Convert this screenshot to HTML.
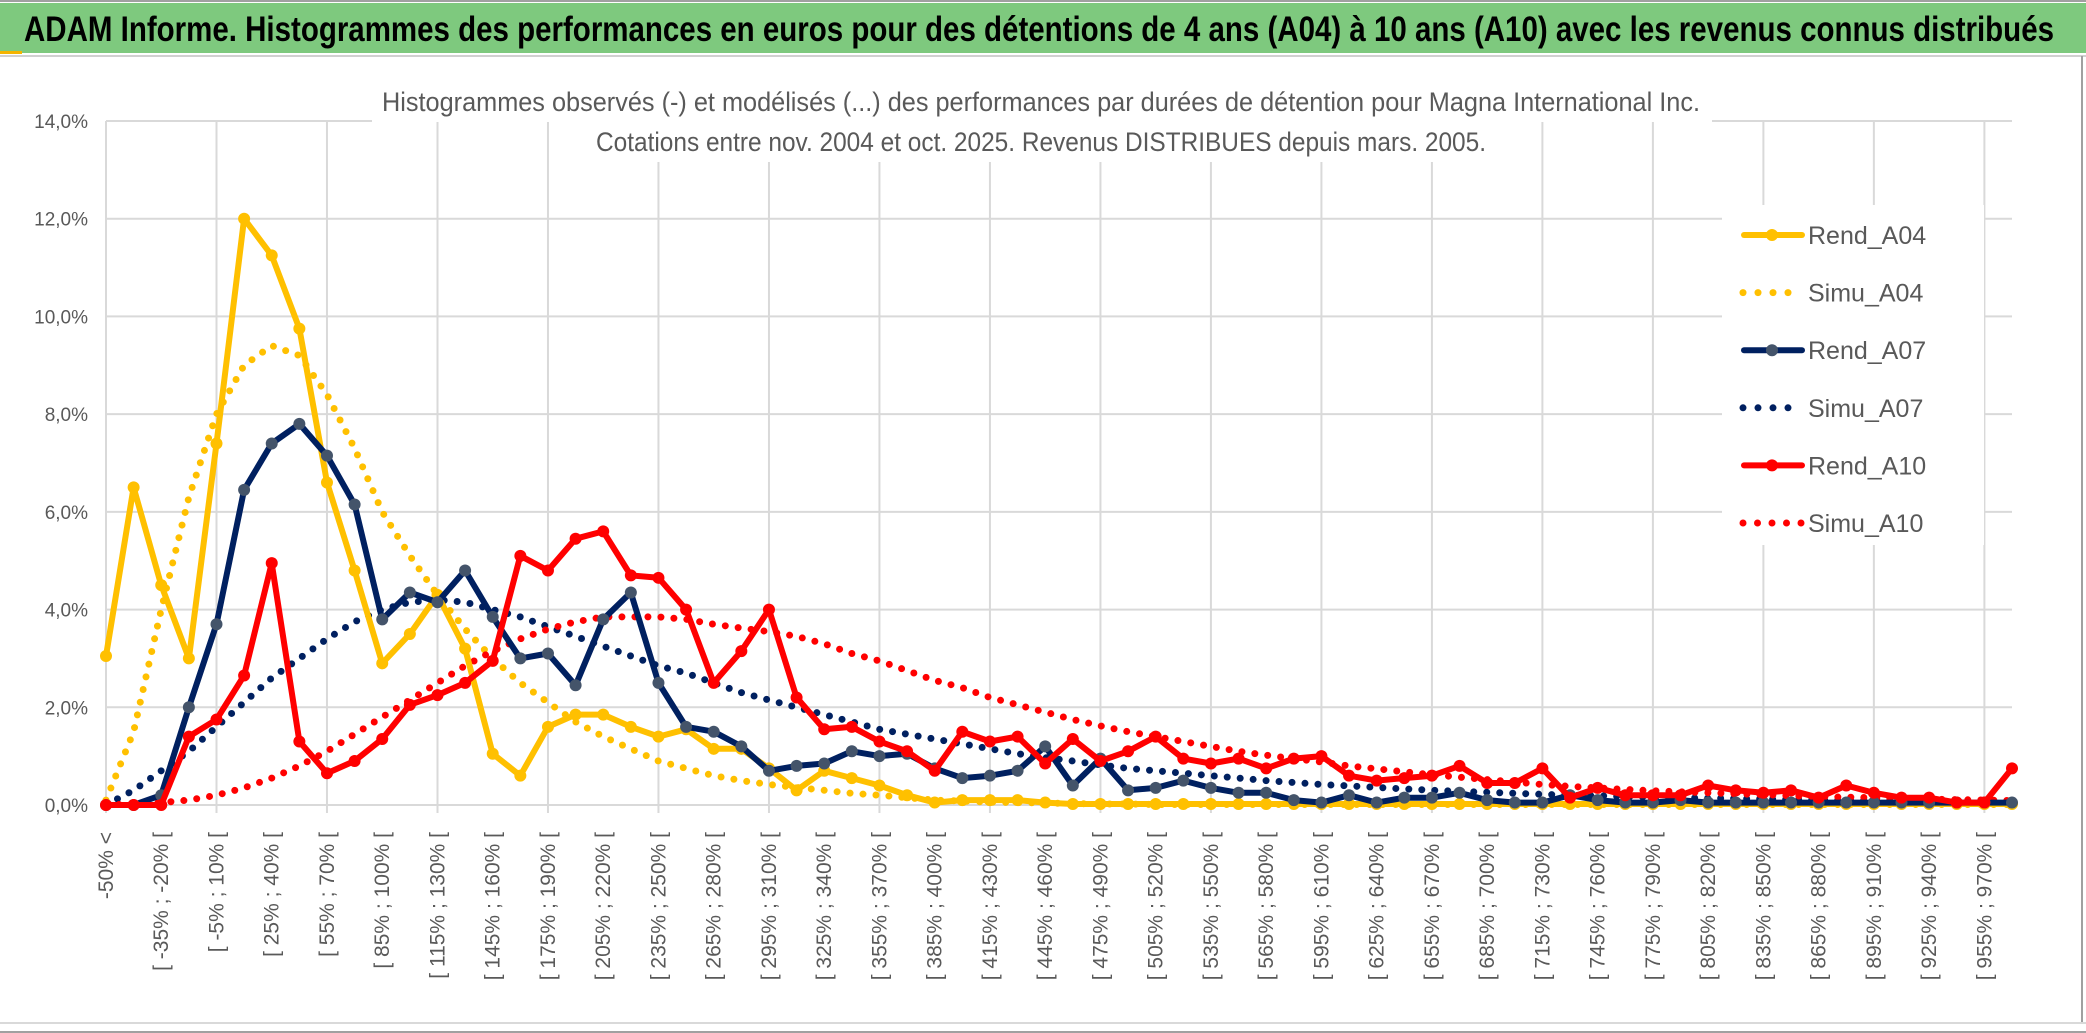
<!DOCTYPE html>
<html><head><meta charset="utf-8"><style>
html,body{margin:0;padding:0;background:#fff;}
svg{display:block;font-family:"Liberation Sans",sans-serif;}
</style></head><body>
<svg id="chart" width="2086" height="1033" viewBox="0 0 2086 1033">
<rect x="0" y="0" width="2086" height="1033" fill="#fff"/>
<line x1="0" y1="1" x2="2086" y2="1" stroke="#a0a0a0" stroke-width="2"/>
<rect x="0" y="3" width="2086" height="50" fill="#7ec97e"/>
<rect x="0" y="51" width="22" height="3" fill="#f4b400"/>
<line x1="0" y1="56" x2="2086" y2="56" stroke="#d0d0d0" stroke-width="2"/>
<text x="24" y="41" font-size="35" font-weight="bold" fill="#000" textLength="2030" lengthAdjust="spacingAndGlyphs">ADAM Informe. Histogrammes des performances en euros pour des détentions de 4 ans (A04) à 10 ans (A10) avec les revenus connus distribués</text>
<line x1="2082" y1="56" x2="2082" y2="1023" stroke="#a0a0a0" stroke-width="2"/>
<line x1="0" y1="1023" x2="2086" y2="1023" stroke="#d9d9d9" stroke-width="2"/>
<line x1="0" y1="1032" x2="2086" y2="1032" stroke="#a0a0a0" stroke-width="2"/>
<g id="grid"></g>
<g id="series"></g>
<g id="axes"></g>
<g id="legend"></g>
<rect x="372" y="82" width="1340" height="40" fill="#fff"/>
<rect x="586" y="122" width="912" height="40" fill="#fff"/>
<text x="382" y="111" font-size="27" fill="#595959" textLength="1318" lengthAdjust="spacingAndGlyphs">Histogrammes observés (-) et modélisés (...) des performances par durées de détention pour Magna International Inc.</text>
<text x="596" y="151" font-size="27" fill="#595959" textLength="890" lengthAdjust="spacingAndGlyphs">Cotations entre nov. 2004 et oct. 2025. Revenus DISTRIBUES depuis mars. 2005.</text>
</svg>
<script>
const categories = [];
categories.push('-50% <');
for (let k = 0; k < 69; k++) { const a = -50 + 15 * k; categories.push('[ ' + a + '% ; ' + (a + 15) + '% ['); }
const yTicks = [0, 2, 4, 6, 8, 10, 12, 14];
const rendA04 = [3.05,6.5,4.5,3.0,7.4,12.0,11.25,9.75,6.6,4.8,2.9,3.5,4.3,3.2,1.05,0.6,1.6,1.85,1.85,1.6,1.4,1.55,1.15,1.15,0.75,0.3,0.7,0.55,0.4,0.2,0.05,0.1,0.1,0.1,0.05,0.02,0.02,0.02,0.02,0.02,0.02,0.02,0.02,0.02,0.02,0.02,0.02,0.02,0.02,0.02,0.02,0.02,0.02,0.02,0.02,0.02,0.02,0.02,0.02,0.02,0.02,0.02,0.02,0.02,0.02,0.02,0.02,0.02,0.02,0.02];
const simuA04 = [0.1,1.5,4.0,6.3,8.0,9.0,9.4,9.2,8.4,7.3,6.0,5.1,4.3,3.6,3.0,2.5,2.1,1.7,1.4,1.15,0.9,0.75,0.6,0.5,0.42,0.36,0.3,0.24,0.2,0.15,0.1,0.08,0.06,0.05,0.04,0.03,0.02,0.02,0.01,0.01,0.01,0.01,0.01,0.01,0.01,0.01,0.01,0.01,0.01,0.01,0.01,0.01,0.01,0.01,0.01,0.01,0.01,0.01,0.01,0.01,0.01,0.01,0.01,0.01,0.01,0.01,0.01,0.01,0.01,0.01];
const rendA07 = [0,0,0.2,2.0,3.7,6.45,7.4,7.8,7.15,6.15,3.8,4.35,4.15,4.8,3.85,3.0,3.1,2.45,3.8,4.35,2.5,1.6,1.5,1.2,0.7,0.8,0.85,1.1,1.0,1.05,0.75,0.55,0.6,0.7,1.2,0.4,0.95,0.3,0.35,0.5,0.35,0.25,0.25,0.1,0.05,0.2,0.05,0.15,0.15,0.25,0.1,0.05,0.05,0.2,0.1,0.05,0.05,0.1,0.05,0.05,0.05,0.05,0.05,0.05,0.05,0.05,0.05,0.05,0.05,0.05];
const simuA07 = [0,0.3,0.7,1.1,1.6,2.1,2.6,3.0,3.4,3.75,4.0,4.15,4.2,4.15,4.0,3.85,3.65,3.45,3.25,3.05,2.85,2.7,2.5,2.3,2.15,2.0,1.85,1.7,1.55,1.45,1.35,1.25,1.15,1.05,0.97,0.9,0.82,0.75,0.7,0.65,0.6,0.55,0.5,0.46,0.42,0.39,0.36,0.33,0.3,0.28,0.26,0.24,0.22,0.2,0.19,0.17,0.16,0.15,0.14,0.13,0.12,0.11,0.1,0.09,0.09,0.08,0.07,0.07,0.06,0.06];
const rendA10 = [0,0,0,1.4,1.75,2.65,4.95,1.3,0.65,0.9,1.35,2.05,2.25,2.5,2.95,5.1,4.8,5.45,5.6,4.7,4.65,4.0,2.5,3.15,4.0,2.2,1.55,1.6,1.3,1.1,0.7,1.5,1.3,1.4,0.85,1.35,0.9,1.1,1.4,0.95,0.85,0.95,0.75,0.95,1.0,0.6,0.5,0.55,0.6,0.8,0.45,0.45,0.75,0.15,0.35,0.2,0.2,0.2,0.4,0.3,0.25,0.3,0.15,0.4,0.25,0.15,0.15,0.05,0.05,0.75];
const simuA10 = [0,0.02,0.05,0.1,0.2,0.35,0.55,0.8,1.1,1.45,1.8,2.15,2.5,2.85,3.15,3.4,3.6,3.75,3.85,3.85,3.85,3.8,3.7,3.62,3.55,3.45,3.3,3.1,2.95,2.75,2.55,2.4,2.2,2.05,1.9,1.75,1.62,1.5,1.4,1.3,1.2,1.1,1.02,0.95,0.88,0.8,0.74,0.68,0.62,0.57,0.52,0.47,0.42,0.38,0.35,0.32,0.29,0.27,0.25,0.23,0.21,0.19,0.17,0.16,0.15,0.13,0.12,0.11,0.1,0.09];
const seriesNames = ['Rend_A04','Simu_A04','Rend_A07','Simu_A07','Rend_A10','Simu_A10'];

const NS = 'http://www.w3.org/2000/svg';
const X0 = 106, X1 = 2012, Y0 = 805, Y14 = 121;
function xPos(i) { return X0 + i * (X1 - X0) / (categories.length - 1); }
function yPos(v) { return Y0 - v * (Y0 - Y14) / 14; }
function mk(tag, attrs, parent) { const e = document.createElementNS(NS, tag); for (const k in attrs) e.setAttribute(k, attrs[k]); parent.appendChild(e); return e; }

const grid = document.getElementById('grid');
yTicks.forEach(t => {
  const l = mk('line', {x1: X0, x2: X1, y1: yPos(t), y2: yPos(t), stroke: '#d9d9d9', 'stroke-width': 2}, grid);
  
  
});
for (let i = 0; i < categories.length; i += 4) {
  const l = mk('line', {x1: xPos(i), x2: xPos(i), y1: Y14, y2: Y0 + 8, stroke: '#d9d9d9', 'stroke-width': 2}, grid);
  
  
}

const axes = document.getElementById('axes');
yTicks.forEach(t => {
  const tx = mk('text', {x: 88, y: yPos(t) + 7, 'font-size': 19, fill: '#595959', 'text-anchor': 'end'}, axes);
  tx.textContent = t.toFixed(1).replace('.', ',') + '%';
  
  
});
for (let i = 0; i < categories.length; i += 2) {
  const x = xPos(i) + 7;
  const tx = mk('text', {x: x, y: 832, 'font-size': 21, fill: '#595959', 'text-anchor': 'end', transform: 'rotate(-90 ' + x + ' 832)'}, axes);
  tx.textContent = categories[i];
  
  
}

const sg = document.getElementById('series');
function path(vals) { return vals.map((v, i) => (i ? 'L' : 'M') + xPos(i).toFixed(1) + ' ' + yPos(v).toFixed(1)).join(' '); }
function dotted(vals, color, name) {
  const p = mk('path', {d: path(vals), fill: 'none', stroke: color, 'stroke-width': 7, 'stroke-linecap': 'round', 'stroke-dasharray': '0 13'}, sg);
  
  
}
function solid(vals, color, mcolor, name) {
  const p = mk('path', {d: path(vals), fill: 'none', stroke: color, 'stroke-width': 6, 'stroke-linejoin': 'round'}, sg);
  
  
  vals.forEach((v, i) => {
    const c = mk('circle', {cx: xPos(i), cy: yPos(v), r: 6, fill: mcolor}, sg);
    
    
  });
}
dotted(simuA04, '#ffc000', 'simu-a04-line');
dotted(simuA07, '#002060', 'simu-a07-line');
dotted(simuA10, '#ff0000', 'simu-a10-line');
solid(rendA04, '#ffc000', '#ffc000', 'rend-a04-line');
solid(rendA07, '#002060', '#44546a', 'rend-a07-line');
solid(rendA10, '#ff0000', '#ff0000', 'rend-a10-line');

const lg = document.getElementById('legend');
const lbg = mk('rect', {x: 1722, y: 205, width: 262, height: 340, fill: '#fff'}, lg);


const lColors = ['#ffc000','#ffc000','#002060','#002060','#ff0000','#ff0000'];
const lMark = ['#ffc000',null,'#44546a',null,'#ff0000',null];
seriesNames.forEach((n, k) => {
  const y = 235 + k * 57.6;
  const g = mk('g', {}, lg);
  
  
  if (lMark[k]) {
    mk('line', {x1: 1744, x2: 1802, y1: y, y2: y, stroke: lColors[k], 'stroke-width': 6, 'stroke-linecap': 'round'}, g);
    mk('circle', {cx: 1772, cy: y, r: 6, fill: lMark[k]}, g);
  } else {
    const n2 = k === 5 ? 5 : 4;
    for (let j = 0; j < n2; j++) mk('circle', {cx: 1743 + j * (k === 5 ? 14.5 : 15), cy: y, r: 3.5, fill: lColors[k]}, g);
  }
  const t = mk('text', {x: 1808, y: y + 9, 'font-size': 25, fill: '#595959'}, g);
  t.textContent = n;
});
</script>
</body></html>
